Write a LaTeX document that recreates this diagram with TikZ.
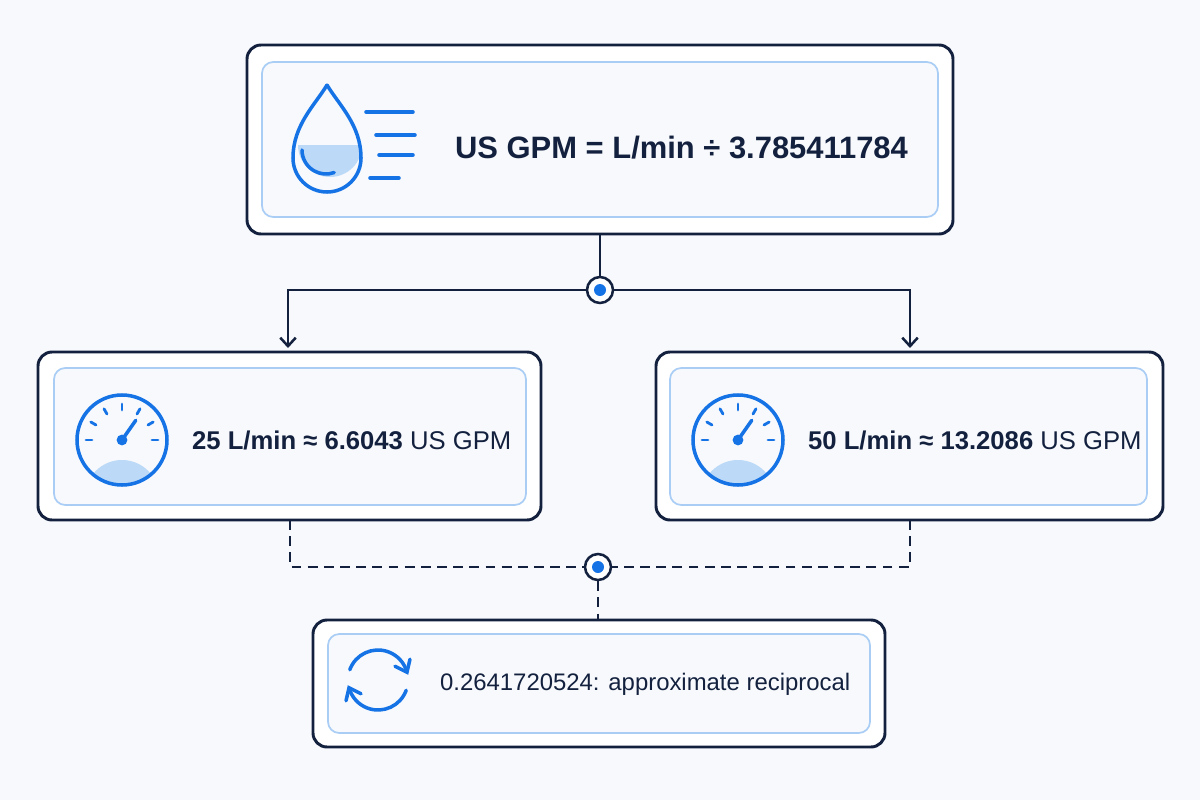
\documentclass[tikz,border=0pt]{standalone}
\usepackage{fontspec}
\setmainfont{Liberation Sans}
\usetikzlibrary{arrows.meta,calc}
\definecolor{navy}{HTML}{13213F}
\definecolor{iblue}{HTML}{1673E6}
\definecolor{lblue}{HTML}{A9CDF5}
\definecolor{fblue}{HTML}{BCD9F7}
\definecolor{bg}{HTML}{F7F9FC}
\begin{document}
\begin{tikzpicture}[x=0.05cm,y=-0.05cm,
  outer/.style={draw=navy,line width=4.2pt,rounded corners=20pt,fill=white},
  inner/.style={draw=lblue,line width=2.4pt,rounded corners=16pt,fill=bg},
  ic/.style={draw=iblue,line width=5pt,line cap=round},
  conn/.style={draw=navy,line width=3.6pt},
  dconn/.style={conn,dash pattern=on 14pt off 9pt},
  arr/.style={conn,-{Straight Barb[length=12pt,width=22pt,line width=3.6pt]}},
  lbl/.style={text=navy,font=\bfseries\fontsize{36.5}{40}\selectfont,anchor=west,inner sep=0},
  junc/.style={circle,draw=navy,line width=3.6pt,fill=white,minimum size=1.3cm,inner sep=0}]
\useasboundingbox[fill=bg] (0,0) rectangle (1200,800);
% boxes
\draw[outer] (247,45) rectangle (953,234);
\draw[inner] (262,62) rectangle (938,217);
\draw[outer] (38,352) rectangle (541,520);
\draw[inner] (54,368) rectangle (526,505);
\draw[outer] (656,352) rectangle (1163,520);
\draw[inner] (670,368) rectangle (1147,505);
\draw[outer] (313,620) rectangle (885,747);
\draw[inner] (328,634) rectangle (870,733);
\coordinate (topb) at (600,234);
\coordinate (lb) at (290,520);
\coordinate (rb) at (910,520);
\coordinate (botb) at (598,620);
\node[junc] (j1) at (600,290) {};
\node[junc] (j2) at (598,567) {};
\draw[conn] (topb) -- (j1);
\draw[arr] (j1) -- (288,290) -- (288,348);
\draw[arr] (j1) -- (910,290) -- (910,348);
\draw[dconn] (lb) -- (290,567) -- (j2);
\draw[dconn] (rb) -- (910,567) -- (j2);
\draw[dconn] (j2) -- (botb);
\fill[iblue] (j1) circle (0.3cm) (j2) circle (0.3cm);
% texts
\node[lbl,font=\bfseries\fontsize{44}{48}\selectfont] (t1) at (455,148) {US GPM = L/min ÷ 3.785411784};
\node[lbl] (t2) at (192,440) {25 L/min ≈ 6.6043 \mdseries US GPM};
\node[lbl] (t3) at (808,440) {50 L/min ≈ 13.2086 \mdseries US GPM};
\node[lbl,font=\fontsize{34}{38}\selectfont] (t4) at (440,684) {0.2641720524: approximate reciprocal};
% drop
\fill[fblue] (298,145) arc (180:0:32) -- cycle;
\draw[ic] (327,85) .. controls (315,105) and (293,125) .. (293,158) arc (180:0:34) .. controls (361,125) and (339,105) .. (327,85);
\draw[ic] (302,150) arc (180:70:24);
\draw[ic] (366,112) -- (413,112) (376,135) -- (415,135) (379,155) -- (413,155) (370,178) -- (399,178);
% gauges
\foreach \cx in {122,738}{
 \begin{scope}
 \clip (\cx,440) circle (45);
 \fill[fblue] (\cx,497) circle (37);
 \end{scope}
 \draw[ic] (\cx,440) circle (45);
 \foreach \a in {180,210,240,270,300,330,360}{
  \draw[ic,line width=4pt] ($(\cx,440)+(\a:30)$) -- ($(\cx,440)+(\a:36)$);
 }
 \draw[ic] (\cx,440) -- ++(305:24);
 \draw[ic,fill=iblue] (\cx,440) circle (3.5);
}
% refresh
\draw[ic] (378,680) ++(200:30) arc (200:345:30);
\draw[ic] (378,680) ++(20:30) arc (20:165:30);
\draw[ic] ($(378,680)+(345:30)$) ++(-12,-6) -- ++(12,6) -- ++(3,-13);
\draw[ic] ($(378,680)+(165:30)$) ++(12,6) -- ++(-12,-6) -- ++(-3,13);
\end{tikzpicture}
\end{document}
